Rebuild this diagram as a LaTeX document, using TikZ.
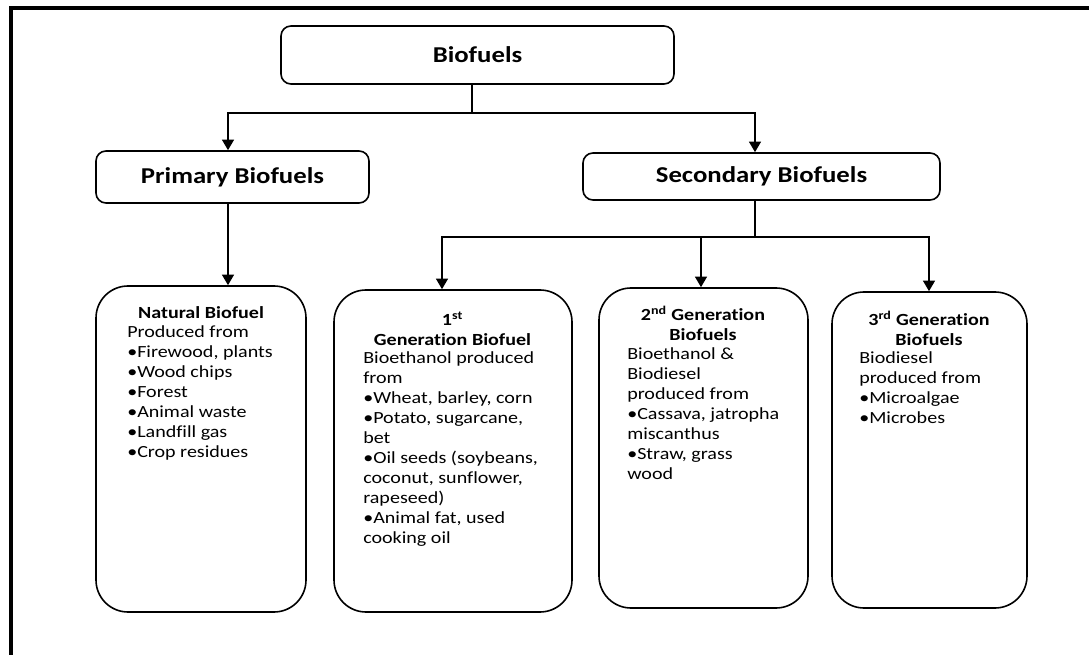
\documentclass[tikz,border=0pt]{standalone}
\usepackage{fontspec}
\setmainfont{Carlito}[FakeStretch=1.18,Ligatures=NoCommon]
\usetikzlibrary{arrows.meta}
\begin{document}
\begin{tikzpicture}[x=0.75pt,y=-0.75pt,
  topbox/.style={draw, line width=1.2pt, rounded corners=7.5pt, inner sep=0pt, font=\fontsize{17}{20}\selectfont\bfseries},
  genbox/.style={draw, line width=1.2pt, rounded corners=24pt, inner sep=0pt},
  conn/.style={line width=1.3pt},
  arr/.style={conn, -{Triangle[length=8pt,width=9pt]}},
  ttl/.style={inner sep=0pt, font=\fontsize{12.75}{15}\selectfont\bfseries, align=center, anchor=north},
  body/.style={inner sep=0pt, font=\fontsize{12.75}{15}\selectfont, align=left, anchor=north west},
]
\useasboundingbox (0,0) rectangle (1089,655);
\fill[white] (0,0) rectangle (1089,655);
% frame
\draw[line width=3pt] (11,656) -- (11,8) -- (1090,8);

% top boxes
\node[topbox, minimum width={393*0.75pt}, minimum height={58*0.75pt}] (bio) at (477.5,55) {Biofuels};
\node[topbox, minimum width={273*0.75pt}, minimum height={52*0.75pt}] (prim) at (232.5,177) {Primary Biofuels};
\node[topbox, minimum width={357*0.75pt}, minimum height={47*0.75pt}] (sec) at (761.5,176.5) {Secondary Biofuels};

% generation boxes
\node[genbox, minimum width={210*0.75pt}, minimum height={326*0.75pt}] (nat) at (201,449) {};
\node[genbox, minimum width={238*0.75pt}, minimum height={322*0.75pt}] (g1) at (453,451) {};
\node[genbox, minimum width={209*0.75pt}, minimum height={320*0.75pt}] (g2) at (703.5,448) {};
\node[genbox, minimum width={195*0.75pt}, minimum height={316*0.75pt}] (g3) at (929.5,450) {};

% texts
\node[ttl] (natT) at (201,306) {Natural Biofuel};
\node[body] (natB) at (127,325) {Produced from\\•Firewood, plants\\•Wood chips\\•Forest\\•Animal waste\\•Landfill gas\\•Crop residues};

\node[ttl] (g1T) at (452.5,312) {1\textsuperscript{st}\\Generation Biofuel};
\node[body] (g1B) at (363,351) {Bioethanol produced\\from\\•Wheat, barley, corn\\•Potato, sugarcane,\\bet\\•Oil seeds (soybeans,\\coconut, sunflower,\\rapeseed)\\•Animal fat, used\\cooking oil};

\node[ttl] (g2T) at (703,306) {2\textsuperscript{nd} Generation\\Biofuels};
\node[body] (g2B) at (627,347) {Bioethanol \&\\Biodiesel\\produced from\\•Cassava, jatropha\\miscanthus\\•Straw, grass\\wood};

\node[ttl] (g3T) at (929,311) {3\textsuperscript{rd} Generation\\Biofuels};
\node[body] (g3B) at (859,351) {Biodiesel\\produced from\\•Microalgae\\•Microbes};

% connectors
\coordinate (j1) at (472,113);
\coordinate (pL) at (228,113);
\coordinate (pR) at (755,113);
\draw[conn] (bio.south -| j1) -- (j1);
\draw[arr] (j1) -- (pL) -- (pL |- prim.north);
\draw[arr] (j1) -- (pR) -- (pR |- sec.north);
\draw[arr] (pL |- prim.south) -- (pL |- nat.north);

\coordinate (j2) at (755,237);
\coordinate (c1) at (442,237);
\coordinate (c2) at (701,237);
\coordinate (c3) at (929,237);
\draw[conn] (sec.south -| j2) -- (j2);
\draw[arr] (j2) -- (c1) -- (c1 |- g1.north);
\draw[arr] (c2) -- (c2 |- g2.north);
\draw[arr] (j2) -- (c3) -- (c3 |- g3.north);
\end{tikzpicture}
\end{document}
